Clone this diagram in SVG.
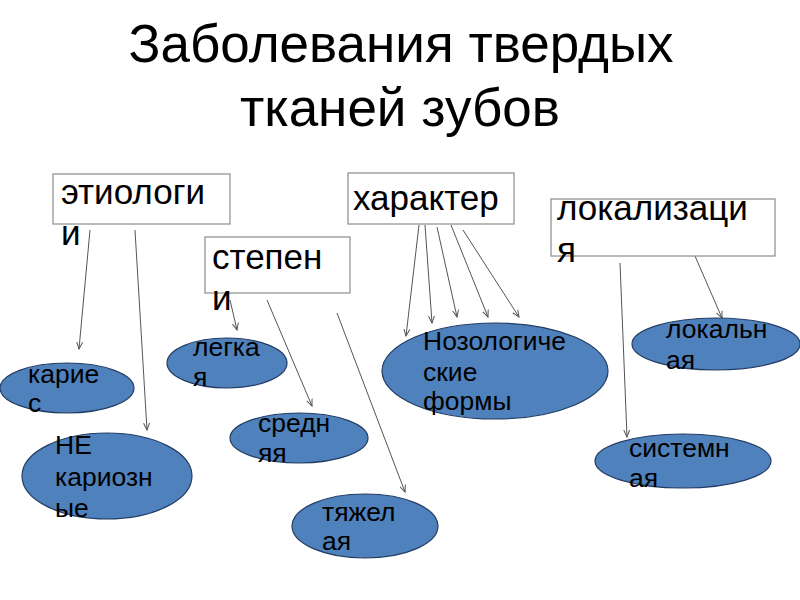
<svg xmlns="http://www.w3.org/2000/svg" width="800" height="600" viewBox="0 0 800 600">
<defs>
<marker id="ah" markerWidth="8" markerHeight="8" refX="7" refY="4" orient="auto" markerUnits="userSpaceOnUse">
<path d="M0,1 L7,4 L0,7" fill="none" stroke="#555" stroke-width="1"/>
</marker>
<style>
.t{font-family:"Liberation Sans",Arial,sans-serif;fill:#000}
.title{font-size:53px}
.bt{font-size:35px}
.et{font-size:26.5px}
.box{fill:#fff;stroke:#8c8c8c;stroke-width:1.2}
.ell{fill:#4f81bd;stroke:#233d63;stroke-width:1.2}
.ln{stroke:#555;stroke-width:1;fill:none;marker-end:url(#ah)}
</style>
</defs>
<rect width="800" height="600" fill="#fff"/>
<g id="title" class="t title" text-anchor="middle">
<text x="401" y="62">Заболевания твердых</text>
<text x="400" y="126">тканей зубов</text>
</g>
<g id="connectors">
<line class="ln" x1="90" y1="230" x2="79" y2="349"/>
<line class="ln" x1="135" y1="230" x2="147" y2="430"/>
<line class="ln" x1="230" y1="300" x2="237" y2="330"/>
<line class="ln" x1="267" y1="300" x2="312" y2="406"/>
<line class="ln" x1="337" y1="313" x2="405" y2="492"/>
<line class="ln" x1="419" y1="225" x2="406" y2="336"/>
<line class="ln" x1="425" y1="225" x2="432" y2="323"/>
<line class="ln" x1="437" y1="227" x2="457" y2="317"/>
<line class="ln" x1="451" y1="225" x2="488" y2="317"/>
<line class="ln" x1="463" y1="230" x2="519" y2="317"/>
<line class="ln" x1="620" y1="263" x2="627" y2="437"/>
<line class="ln" x1="695" y1="256" x2="722" y2="318"/>
</g>
<g id="etiologii">
<rect class="box" x="53" y="174" width="177" height="50"/>
<text class="t bt" x="61" y="204">этиологи</text>
<text class="t bt" x="61" y="245">и</text>
</g>
<g id="stepeni">
<rect class="box" x="205" y="237" width="145" height="56"/>
<text class="t bt" x="212" y="269">степен</text>
<text class="t bt" x="212" y="310">и</text>
</g>
<g id="harakter">
<rect class="box" x="348" y="173" width="166" height="51"/>
<text class="t bt" x="353" y="210">характер</text>
</g>
<g id="lokalizacia">
<rect class="box" x="551" y="199" width="224" height="57"/>
<text class="t bt" x="557" y="220">локализаци</text>
<text class="t bt" x="557" y="262">я</text>
</g>
<g id="karies">
<ellipse class="ell" cx="67" cy="388" rx="67" ry="25"/>
<text class="t et" x="28" y="383">карие</text>
<text class="t et" x="28" y="412">с</text>
</g>
<g id="nekarioznye">
<ellipse class="ell" cx="107" cy="476" rx="85" ry="43"/>
<text class="t et" x="55" y="454">НЕ</text>
<text class="t et" x="55" y="486">кариозн</text>
<text class="t et" x="55" y="517">ые</text>
</g>
<g id="legkaya">
<ellipse class="ell" cx="227" cy="363" rx="60" ry="25"/>
<text class="t et" x="193" y="356">легка</text>
<text class="t et" x="193" y="386">я</text>
</g>
<g id="srednyaya">
<ellipse class="ell" cx="299" cy="438" rx="69" ry="25"/>
<text class="t et" x="258" y="432">средн</text>
<text class="t et" x="258" y="462">яя</text>
</g>
<g id="tyazhelaya">
<ellipse class="ell" cx="365" cy="526" rx="73" ry="32"/>
<text class="t et" x="322" y="521">тяжел</text>
<text class="t et" x="322" y="550">ая</text>
</g>
<g id="nozologicheskie">
<ellipse class="ell" cx="495" cy="371" rx="113" ry="48"/>
<text class="t et" x="423" y="350">Нозологиче</text>
<text class="t et" x="423" y="381">ские</text>
<text class="t et" x="423" y="410">формы</text>
</g>
<g id="lokalnaya">
<ellipse class="ell" cx="716" cy="344" rx="84" ry="26"/>
<text class="t et" x="666" y="338">локальн</text>
<text class="t et" x="666" y="369">ая</text>
</g>
<g id="sistemnaya">
<ellipse class="ell" cx="683" cy="461" rx="88" ry="27"/>
<text class="t et" x="629" y="457">системн</text>
<text class="t et" x="629" y="487">ая</text>
</g>
</svg>
